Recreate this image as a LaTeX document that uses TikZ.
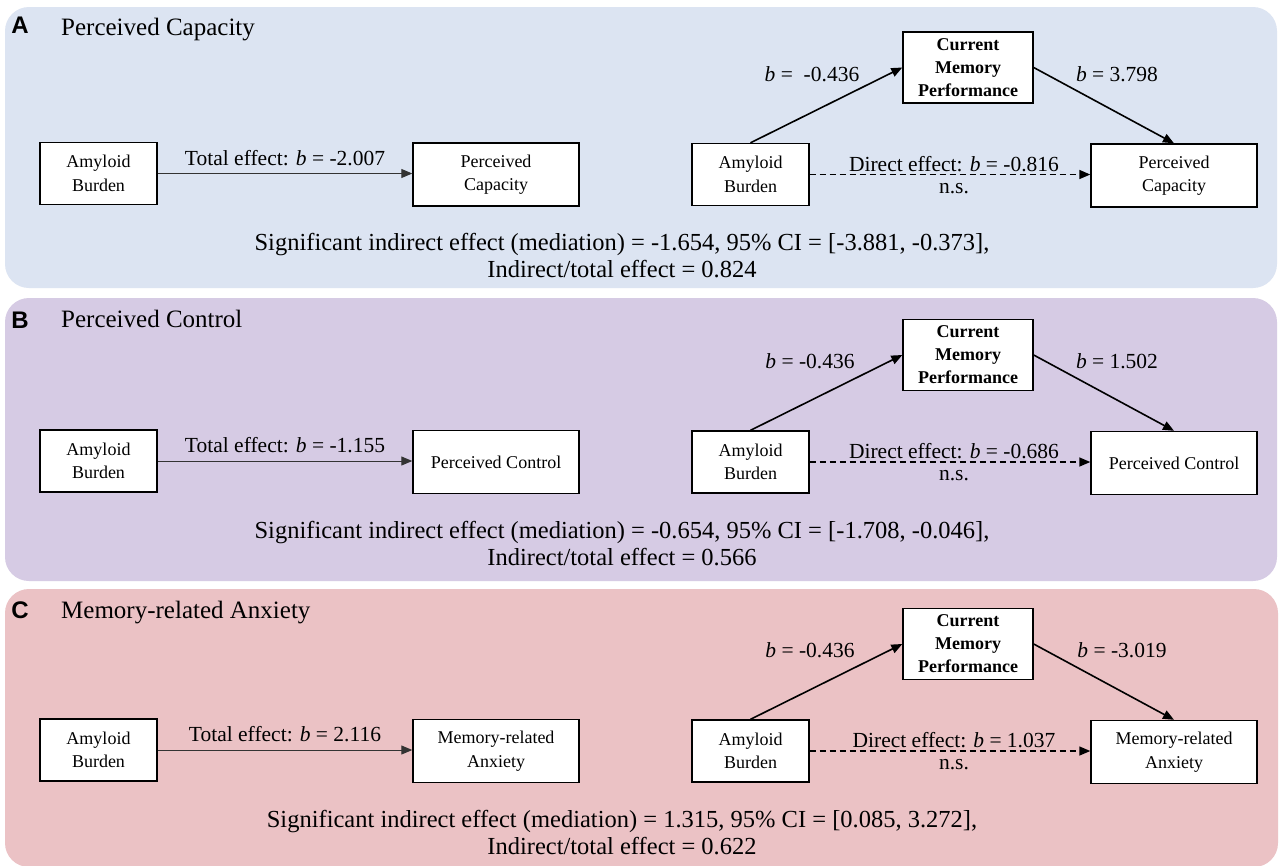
\documentclass[tikz,border=0pt]{standalone}
\usepackage{fontspec}
\setmainfont{Liberation Serif}
\newfontfamily\panelsans{Liberation Sans}
\usetikzlibrary{arrows.meta}
\definecolor{panelA}{HTML}{DCE4F2}
\definecolor{panelB}{HTML}{D6CBE4}
\definecolor{panelC}{HTML}{EBC2C5}
\begin{document}
\begin{tikzpicture}[x=1pt,y=-1pt,
  boxnode/.style={draw=black, fill=white, line width=1.4pt, align=center, inner sep=0pt,
    font=\fontsize{18}{23.5}\selectfont},
  amybox/.style={boxnode, minimum width=117pt, minimum height=62pt},
  outbox/.style={boxnode, minimum width=166pt, minimum height=63pt},
  medbox/.style={boxnode, minimum width=130pt, minimum height=71pt,
    font=\bfseries\fontsize{18}{23}\selectfont},
  panelbg/.style={rounded corners=24pt},
  lbl/.style={font=\fontsize{21.5}{24}\selectfont, inner sep=0pt, anchor=base},
  ttl/.style={font=\fontsize{25}{28}\selectfont, inner sep=0pt, anchor=base west},
  letter/.style={font=\panelsans\bfseries\fontsize{24}{24}\selectfont, inner sep=0pt},
  summary/.style={font=\fontsize{24.5}{27}\selectfont, inner sep=0pt, align=center},
  totalarrow/.style={line width=1pt, draw=black!80, -{Triangle[length=11pt,width=9pt]}},
  medarrow/.style={line width=1.6pt, -{Triangle[length=11pt,width=9pt]}},
  directarrow/.style={line width=1.4pt, dash pattern=on 6pt off 4pt, -{Triangle[length=11pt,width=9pt]}}
]
\useasboundingbox (0,0) rectangle (1279,865);
\fill[white] (0,0) rectangle (1279,865);
% ---------------- backgrounds ----------------
\fill[panelA, panelbg] (5,7) rectangle (1277,288);
\fill[panelB, panelbg] (5,298) rectangle (1277,581);
\fill[panelC, panelbg] (5,589) rectangle (1278,867);
% ---------------- titles ----------------
\node[letter] (letA) at (20,25) {A};
\node[ttl] (titA) at (61,35) {Perceived Capacity};
\node[letter] (letB) at (20,320) {B};
\node[ttl] (titB) at (61,327) {Perceived Control};
\node[letter] (letC) at (20,610) {C};
\node[ttl] (titC) at (61,618) {Memory-related Anxiety};
% ---------------- panel A ----------------
\begin{scope}
\node[amybox] (amyLA) at (98.5,173.5) {Amyloid\\Burden};
\node[outbox] (outLA) at (496,174.5) {Perceived\\Capacity};
\draw[totalarrow] (amyLA.east) -- (amyLA.east -| outLA.west);
\node[lbl] (totA) at (285,165) {Total effect: \textit{b} = -2.007};
\node[amybox] (amyRA) at (750.5,174.5) {Amyloid\\Burden};
\node[medbox] (medA) at (968,67.5) {Current\\Memory\\Performance};
\node[outbox] (outRA) at (1174,175.5) {Perceived\\Capacity};
\draw[medarrow] (amyRA.north) -- (medA.west);
\draw[medarrow] (medA.east) -- (outRA.north);
\draw[directarrow] (amyRA.east) -- (amyRA.east -| outRA.west);
\node[lbl] (aA) at (812,81) {\textit{b} =\ \ -0.436};
\node[lbl] (bA) at (1117,81) {\textit{b} = 3.798};
\node[lbl] (dirA) at (954,171) {Direct effect: \textit{b} = -0.816};
\node[lbl] (nsA) at (954,193) {n.s.};
\node[summary] (sumA) at (622,256) {Significant indirect effect (mediation) = -1.654, 95\% CI = [-3.881, -0.373],\\Indirect/total effect = 0.824};
\end{scope}
% ---------------- panel B ----------------
\begin{scope}[yshift=-287.5pt]
\node[amybox] (amyLB) at (98.5,173.5) {Amyloid\\Burden};
\node[outbox] (outLB) at (496,174.5) {Perceived Control};
\draw[totalarrow] (amyLB.east) -- (amyLB.east -| outLB.west);
\node[lbl] (totB) at (285,165) {Total effect: \textit{b} = -1.155};
\node[amybox] (amyRB) at (750.5,174.5) {Amyloid\\Burden};
\node[medbox] (medB) at (968,67.5) {Current\\Memory\\Performance};
\node[outbox] (outRB) at (1174,175.5) {Perceived Control};
\draw[medarrow] (amyRB.north) -- (medB.west);
\draw[medarrow] (medB.east) -- (outRB.north);
\draw[directarrow] (amyRB.east) -- (amyRB.east -| outRB.west);
\node[lbl] (aB) at (810,81) {\textit{b} = -0.436};
\node[lbl] (bB) at (1117,81) {\textit{b} = 1.502};
\node[lbl] (dirB) at (954,171) {Direct effect: \textit{b} = -0.686};
\node[lbl] (nsB) at (954,193) {n.s.};
\node[summary] (sumB) at (622,256) {Significant indirect effect (mediation) = -0.654, 95\% CI = [-1.708, -0.046],\\Indirect/total effect = 0.566};
\end{scope}
% ---------------- panel C ----------------
\begin{scope}[yshift=-576.5pt]
\node[amybox] (amyLC) at (98.5,173.5) {Amyloid\\Burden};
\node[outbox] (outLC) at (496,174.5) {Memory-related\\Anxiety};
\draw[totalarrow] (amyLC.east) -- (amyLC.east -| outLC.west);
\node[lbl] (totC) at (285,165) {Total effect: \textit{b} = 2.116};
\node[amybox] (amyRC) at (750.5,174.5) {Amyloid\\Burden};
\node[medbox] (medC) at (968,67.5) {Current\\Memory\\Performance};
\node[outbox] (outRC) at (1174,175.5) {Memory-related\\Anxiety};
\draw[medarrow] (amyRC.north) -- (medC.west);
\draw[medarrow] (medC.east) -- (outRC.north);
\draw[directarrow] (amyRC.east) -- (amyRC.east -| outRC.west);
\node[lbl] (aC) at (810,81) {\textit{b} = -0.436};
\node[lbl] (bC) at (1122,81) {\textit{b} = -3.019};
\node[lbl] (dirC) at (954,171) {Direct effect: \textit{b} = 1.037};
\node[lbl] (nsC) at (954,193) {n.s.};
\node[summary] (sumC) at (622,256) {Significant indirect effect (mediation) = 1.315, 95\% CI = [0.085, 3.272],\\Indirect/total effect = 0.622};
\end{scope}
\end{tikzpicture}
\end{document}
